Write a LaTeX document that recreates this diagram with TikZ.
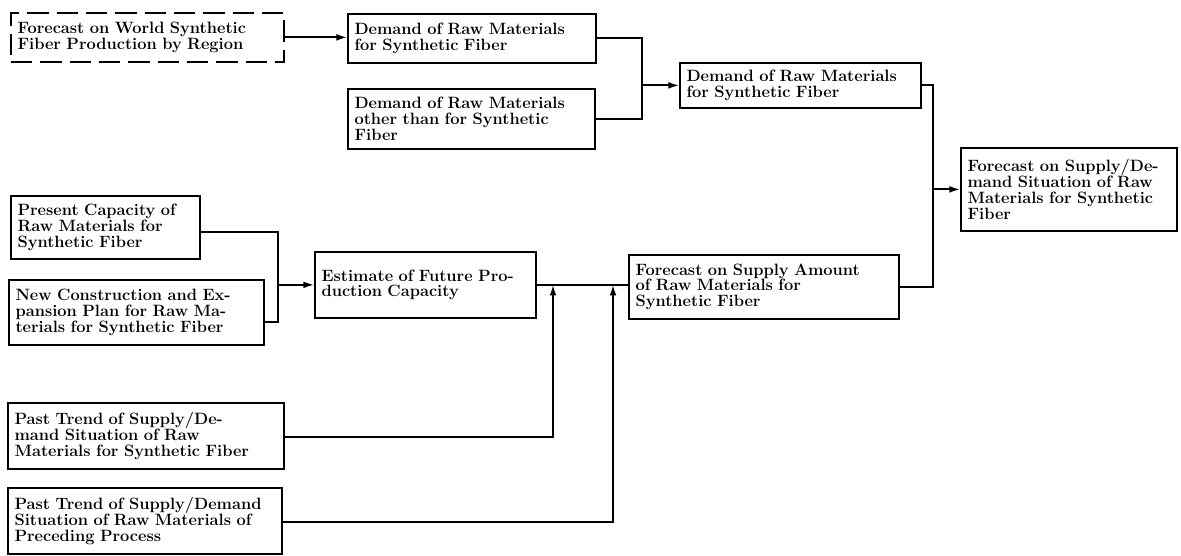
\documentclass[tikz,border=0pt]{standalone}
\usepackage{tikz}
\usetikzlibrary{arrows.meta, positioning}

\begin{document}
\begin{tikzpicture}[
  x=0.75pt, y=-0.75pt,
  font=\fontsize{12.3}{11.8}\selectfont\bfseries,
  box/.style={draw, line width=1.3pt, anchor=north west, align=left, inner xsep=5pt, inner ysep=2pt},
  dbox/.style={box, dash pattern=on 16pt off 6pt},
  link/.style={line width=1.3pt},
  arr/.style={link, -{Latex[length=2.8mm, width=1.8mm]}}
]
\useasboundingbox (0,0) rectangle (1181,556);

% demand side
\node[dbox, text width=194.75pt, minimum height=36.75pt] (world) at (10,12) {Forecast on World Synthetic\\Fiber Production by Region};
\node[box, text width=176pt, minimum height=36.75pt] (dem) at (347,13) {Demand of Raw Materials\\for Synthetic Fiber};
\node[box, text width=175.25pt, minimum height=45pt] (oth) at (347,88) {Demand of Raw Materials\\other than for Synthetic\\Fiber};
\node[box, text width=170.75pt, minimum height=33.75pt] (dsum) at (679,62) {Demand of Raw Materials\\for Synthetic Fiber};

% supply side
\node[box, text width=131.75pt, minimum height=47.25pt] (pres) at (10,195) {Present Capacity of\\Raw Materials for\\Synthetic Fiber};
\node[box, text width=181.25pt, minimum height=48.75pt] (newc) at (8,279) {New Construction and Ex-\\pansion Plan for Raw Ma-\\terials for Synthetic Fiber};
\node[box, text width=155.75pt, minimum height=49.5pt] (est) at (314,251) {Estimate of Future Pro-\\duction Capacity};
\node[box, text width=192.5pt, minimum height=48pt] (sup) at (628,254) {Forecast on Supply Amount\\of Raw Materials for\\Synthetic Fiber};
\node[box, text width=197pt, minimum height=49.5pt] (past) at (7,402) {Past Trend of Supply/De-\\mand Situation of Raw\\Materials for Synthetic Fiber};
\node[box, text width=195.5pt, minimum height=49.5pt] (prev) at (7,487) {Past Trend of Supply/Demand\\Situation of Raw Materials of\\Preceding Process};

% result
\node[box, text width=152pt, minimum height=62.25pt] (sd) at (960,147) {Forecast on Supply/De-\\mand Situation of Raw\\Materials for Synthetic\\Fiber};

% junctions
\coordinate (jd) at (642,85);
\coordinate (jf) at (933,188);
\coordinate (jp) at (278,232);
\coordinate (jn) at (278,322);
\coordinate (jq) at (553,437);
\coordinate (jr) at (613,522);

% connectors
\draw[arr] (world.east) -- (world.east -| dem.west);
\draw[link] (dem.east) -- (dem.east -| jd) -- (oth.east -| jd) -- (oth.east);
\draw[arr] (jd |- dsum.west) -- (dsum.west);
\draw[link] (dsum.east) -- (dsum.east -| jf) -- (sup.east -| jf) -- (sup.east);
\draw[arr] (jf |- sd.west) -- (sd.west);
\draw[link] (pres.east |- jp) -- (jp) -- (jn) -- (newc.east |- jn);
\draw[arr] (jp |- est.west) -- (est.west);
\draw[link] (est.east) -- (est.east -| sup.west);
\draw[arr] (past.east |- jq) -- (jq) -- (jq |- est.east);
\draw[arr] (prev.east |- jr) -- (jr) -- (jr |- est.east);

\end{tikzpicture}
\end{document}
